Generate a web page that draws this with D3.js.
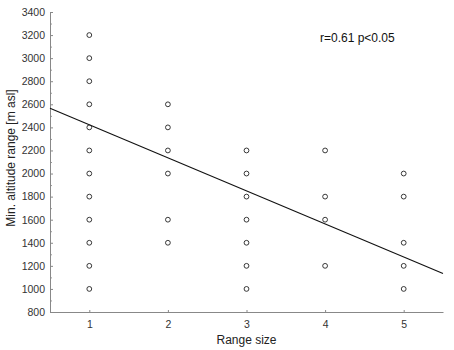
<!DOCTYPE html>
<html>
<head>
<meta charset="utf-8">
<script src="https://cdn.jsdelivr.net/npm/d3@7"></script>
<style>
  body { margin: 0; background: #fff; }
  svg text { font-family: "Liberation Sans", Arial, sans-serif; }
</style>
</head>
<body>
<div id="chart"></div>
<script>
// range size of each point
const rangeSize = [
    1, 1, 1, 1, 1, 1, 1, 1, 1, 1, 1, 1,
    2, 2, 2, 2, 2, 2,
    3, 3, 3, 3, 3, 3, 3,
    4, 4, 4, 4,
    5, 5, 5, 5, 5
];
// min. altitude range [m asl]
const minAltitude = [
    1000, 1200, 1400, 1600, 1800, 2000, 2200, 2400, 2600, 2800, 3000, 3200,
    1400, 1600, 2000, 2200, 2400, 2600,
    1000, 1200, 1400, 1600, 1800, 2000, 2200,
    1200, 1600, 1800, 2200,
    1000, 1200, 1400, 1800, 2000
];
// fitted line end points
const fitX = [0.5, 5.5];
const fitY = [2565, 1133];

const xTicks = [1, 2, 3, 4, 5];
const yTicks = [800, 1000, 1200, 1400, 1600, 1800, 2000, 2200, 2400, 2600, 2800, 3000, 3200, 3400];
const statText = "r=0.61 p<0.05";

const W = 454, H = 350;
const margin = { top: 12, right: 11, bottom: 38, left: 50 };
const width = W - margin.left - margin.right,
    height = H - margin.top - margin.bottom;

const svg = d3.select("#chart").append("svg")
    .attr("width", W)
    .attr("height", H)
    .append("g")
    .attr("transform", "translate(" + margin.left + "," + margin.top + ")");

const x = d3.scaleLinear().domain([0.5, 5.5]).range([0, width]);
const y = d3.scaleLinear().domain([800, 3400]).range([height, 0]);

// minor ticks on y
svg.append("g")
    .attr("class", "y-minor")
    .call(d3.axisRight(y).tickValues(d3.range(900, 3400, 200)).tickSize(2).tickFormat(""))
    .call(g => g.select(".domain").remove())
    .selectAll("line").attr("stroke", "#999");

// y axis
const yAxis = svg.append("g")
    .attr("class", "y-axis")
    .call(d3.axisRight(y).tickValues(yTicks).tickSize(3).tickFormat(d3.format("d")).tickSizeOuter(0));
yAxis.select(".domain").attr("stroke", "#888");
yAxis.selectAll("line").attr("stroke", "#888");
yAxis.selectAll("text")
    .attr("x", -5)
    .style("text-anchor", "end")
    .style("font-size", "10.5px")
    .attr("fill", "#333");

// x axis
const xAxis = svg.append("g")
    .attr("class", "x-axis")
    .attr("transform", "translate(0," + height + ")")
    .call(d3.axisTop(x).tickValues(xTicks).tickSize(2).tickFormat(d3.format("d")).tickSizeOuter(0));
xAxis.select(".domain").attr("stroke", "#888");
xAxis.selectAll("line").attr("stroke", "#888");
xAxis.selectAll("text")
    .attr("y", 16)
    .style("font-size", "10.5px")
    .attr("fill", "#333");

// regression line
const fit = fitX.map((d, i) => ({ x: d, y: fitY[i] }));
svg.append("path")
    .datum(fit)
    .attr("d", d3.line().x(d => x(d.x)).y(d => y(d.y)))
    .attr("fill", "none")
    .attr("stroke", "#111")
    .attr("stroke-width", 1.1);

// points
svg.selectAll(".pt")
    .data(rangeSize.map((d, i) => ({ x: d, y: minAltitude[i] })))
    .enter().append("circle")
    .attr("class", "pt")
    .attr("cx", d => x(d.x))
    .attr("cy", d => y(d.y))
    .attr("r", 2.4)
    .attr("fill", "none")
    .attr("stroke", "#222")
    .attr("stroke-width", 0.9);

// stat annotation
svg.append("text")
    .attr("x", x(4.41))
    .attr("y", 30)
    .style("text-anchor", "middle")
    .style("font-size", "12px")
    .attr("fill", "#111")
    .text(statText);

// axis titles
svg.append("text")
    .attr("x", -height / 2 + 4)
    .attr("y", -35)
    .attr("transform", "rotate(-90)")
    .style("text-anchor", "middle")
    .style("font-size", "12px")
    .attr("fill", "#222")
    .text("Min. altitude range [m asl]");
svg.append("text")
    .attr("x", x(3))
    .attr("y", height + 32)
    .style("text-anchor", "middle")
    .style("font-size", "12px")
    .attr("fill", "#222")
    .text("Range size");
</script>
</body>
</html>
